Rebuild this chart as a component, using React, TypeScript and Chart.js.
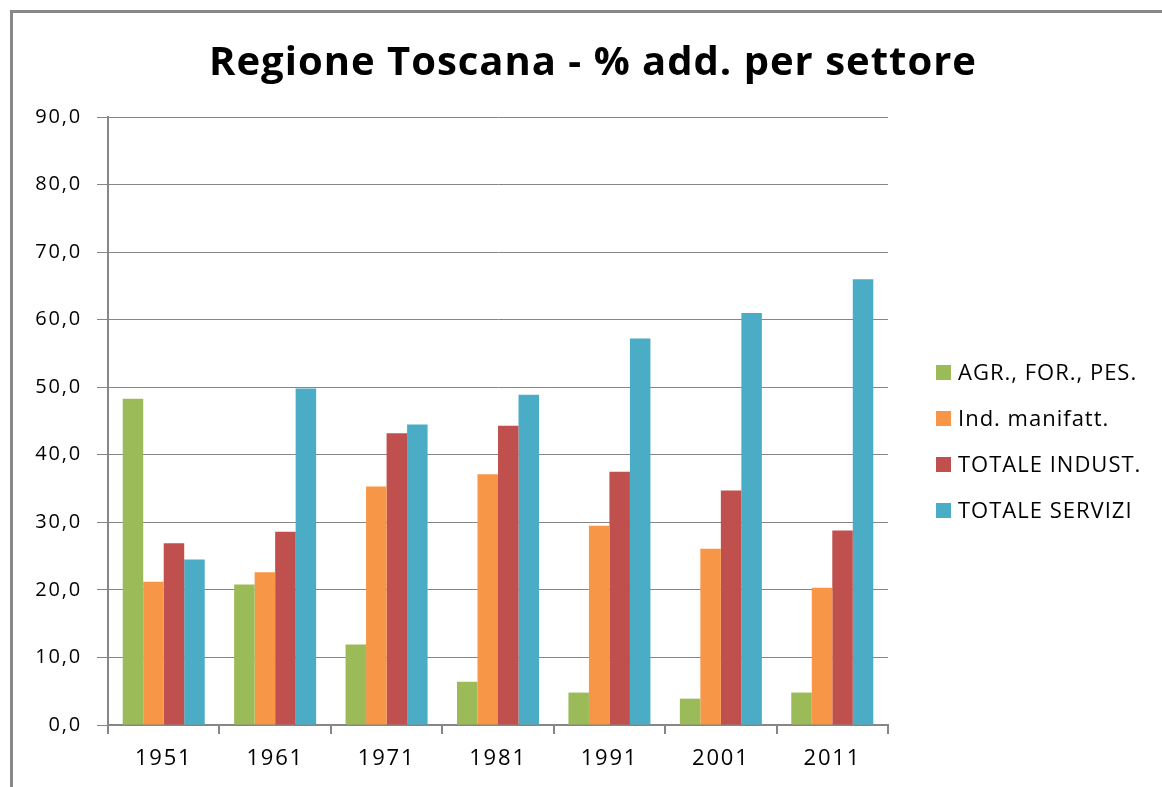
import React, { useEffect, useRef } from "react";
import { Chart, registerables } from "chart.js";

Chart.register(...registerables);

const title = "Regione Toscana - % add. per settore";
const years = ["1951", "1961", "1971", "1981", "1991", "2001", "2011"];
const seriesNames = ["AGR., FOR., PES.", "Ind. manifatt.", "TOTALE INDUST.", "TOTALE SERVIZI"];
const agr = [48.3, 20.8, 11.9, 6.4, 4.8, 3.9, 4.8];
const manif = [21.2, 22.6, 35.3, 37.1, 29.5, 26.1, 20.3];
const industria = [26.9, 28.6, 43.2, 44.3, 37.5, 34.7, 28.8];
const servizi = [24.5, 49.8, 44.5, 48.9, 57.2, 61.0, 66.0];
const colors = ["#9BBB59", "#F79646", "#C0504D", "#4BACC6"];
const yMin = 0;
const yMax = 90;
const yStep = 10;

const FONT = "'Open Sans', 'DejaVu Sans', sans-serif";

const decorPlugin = {
  id: "decor",
  beforeDraw(chart: any) {
    const ctx = chart.ctx;
    ctx.save();
    ctx.fillStyle = "#ffffff";
    ctx.fillRect(0, 0, chart.width, chart.height);
    ctx.strokeStyle = "#888888";
    ctx.lineWidth = 3;
    ctx.beginPath();
    ctx.moveTo(11.5, chart.height + 5);
    ctx.lineTo(11.5, 11.5);
    ctx.lineTo(chart.width + 5, 11.5);
    ctx.stroke();
    ctx.restore();
    (ctx as any).letterSpacing = "1.8px";
  },
  afterDraw(chart: any) {
    const ctx = chart.ctx;
    ctx.save();
    (ctx as any).letterSpacing = "1px";
    ctx.fillStyle = "#000000";
    ctx.font = `bold 40px ${FONT}`;
    ctx.textAlign = "center";
    ctx.textBaseline = "alphabetic";
    ctx.fillText(title, 593, 75);

    (ctx as any).letterSpacing = "1px";
    ctx.font = `22px ${FONT}`;
    ctx.textAlign = "left";
    ctx.textBaseline = "middle";
    chart.data.datasets.forEach((ds: any, i: number) => {
      const cy = 372.5 + i * 46;
      ctx.fillStyle = ds.backgroundColor;
      ctx.fillRect(936, cy - 7.5, 15, 15);
      ctx.fillStyle = "#000000";
      ctx.fillText(ds.label, 958, cy + 1);
    });
    ctx.restore();
    (ctx as any).letterSpacing = "0px";
  },
};

export default function App() {
  const canvasRef = useRef<HTMLCanvasElement | null>(null);

  useEffect(() => {
    const canvas = canvasRef.current;
    if (!canvas) return;
    const chart = new Chart(canvas, {
      type: "bar",
      data: {
        labels: years,
        datasets: [agr, manif, industria, servizi].map((d, i) => ({
          label: seriesNames[i],
          data: d,
          backgroundColor: colors[i],
          borderWidth: 0,
          categoryPercentage: 0.736,
          barPercentage: 1.0,
        })),
      },
      options: {
        animation: false,
        responsive: false,
        maintainAspectRatio: false,
        layout: { padding: { top: 117, right: 274, bottom: 0, left: 0 } },
        plugins: {
          legend: { display: false },
          title: { display: false },
          tooltip: { enabled: false },
        },
        scales: {
          x: {
            offset: true,
            grid: {
              offset: true,
              drawOnChartArea: false,
              drawTicks: true,
              tickLength: 9,
              color: "#868686",
              lineWidth: 2,
            },
            border: { display: true, color: "#868686", width: 2 },
            ticks: {
              color: "#000000",
              font: { family: FONT, size: 22 },
              padding: 12,
              maxRotation: 0,
            },
            afterFit(scale: any) {
              scale.height = 62;
            },
          },
          y: {
            min: yMin,
            max: yMax,
            ticks: {
              stepSize: yStep,
              color: "#000000",
              font: { family: FONT, size: 20 },
              padding: 15,
              callback: (v: any) => Number(v).toFixed(1).replace(".", ","),
            },
            grid: {
              color: "#868686",
              lineWidth: 1,
              tickLength: 11,
              drawTicks: true,
            },
            border: { display: true, color: "#868686", width: 2 },
            afterFit(scale: any) {
              scale.width = 108;
            },
          },
        },
      },
      plugins: [decorPlugin],
    });
    return () => chart.destroy();
  }, []);

  return (
    <div style={{ position: "fixed", left: 0, top: 0, width: 1162, height: 787, background: "#fff" }}>
      <canvas ref={canvasRef} width={1162} height={787} style={{ display: "block" }} />
    </div>
  );
}
